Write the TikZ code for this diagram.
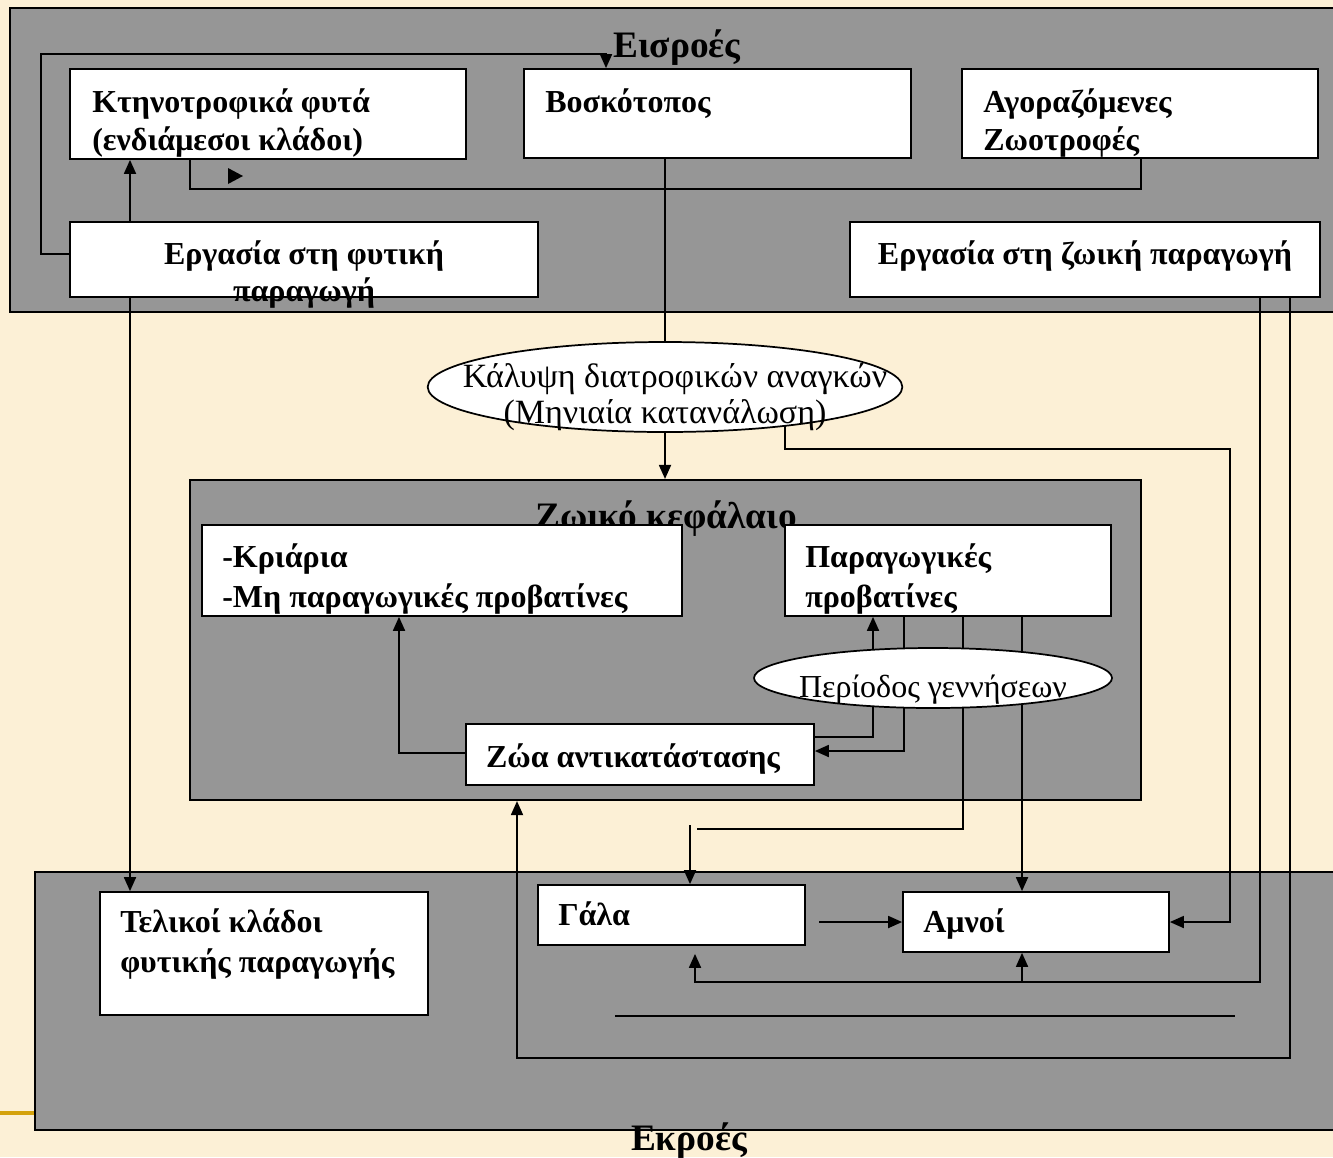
\documentclass[tikz,border=0pt]{standalone}
\usepackage{fontspec}
\setmainfont{Liberation Serif}
\usetikzlibrary{arrows.meta,shapes.geometric,fit,calc}
\pgfdeclarelayer{bg}
\pgfdeclarelayer{lines}
\pgfsetlayers{bg,lines,main}
\definecolor{parch}{HTML}{FCF0D6}
\definecolor{panelgray}{HTML}{969696}
\definecolor{goldline}{HTML}{D4A20C}
\begin{document}
\begin{tikzpicture}[x=0.75pt,y=-0.75pt,
  panel/.style={draw, fill=panelgray, line width=1.6pt, inner sep=0pt},
  wbox/.style={draw, fill=white, line width=1.3pt, inner sep=0pt},
  bt/.style={font=\bfseries\fontsize{24}{29}\selectfont, inner sep=0pt},
  et/.style={font=\fontsize{25.5}{30}\selectfont, inner sep=0pt},
  et2/.style={font=\fontsize{24}{29}\selectfont, inner sep=0pt},
  ttl/.style={font=\bfseries\fontsize{28}{33}\selectfont, inner sep=0pt},
  con/.style={line width=1.35pt},
  arr/.style={con, -{Triangle[length=10.5pt,width=9pt]}}]
\useasboundingbox (0,0) rectangle (1333,1157);
\begin{pgfonlayer}{bg}
  \fill[parch] (0,0) rectangle (1333,1157);
  \draw[goldline, line width=2.5pt] (0,1113) -- (35,1113);
  \node[panel, fit={(10,8)(1350,312)}] (inp) {};
  \node[panel, fit={(190,480)(1141,800)}] (zk) {};
  \node[panel, fit={(35,872)(1350,1130)}] (outp) {};
  \node[ttl, anchor=base] (zkt) at (666,528) {Ζωικό κεφάλαιο};
\end{pgfonlayer}

% boxes
\node[wbox, fit={(70,69)(466,159)}] (kt) {};
\node[wbox, fit={(524,69)(911,158)}] (bos) {};
\node[wbox, fit={(962,69)(1318,158)}] (ag) {};
\node[wbox, fit={(70,222)(538,297)}] (ef) {};
\node[wbox, fit={(850,222)(1320,297)}] (ez) {};
\node[wbox, ellipse, minimum width=356pt, minimum height=67.5pt] (e1) at (665,387) {};
\node[wbox, fit={(202,525)(682,616)}] (kr) {};
\node[wbox, fit={(785,525)(1111,616)}] (pp) {};
\node[wbox, ellipse, minimum width=268.5pt, minimum height=45pt] (e2) at (933,678) {};
\node[wbox, fit={(466,724)(814,785)}] (za) {};
\node[wbox, fit={(100,892)(428,1015)}] (tk) {};
\node[wbox, fit={(538,885)(805,945)}] (ga) {};
\node[wbox, fit={(903,892)(1169,952)}] (am) {};

% texts
\node[ttl, anchor=base] (inpt) at (677,57) {Εισροές};
\node[ttl, anchor=base] (outpt) at (689,1150) {Εκροές};
\node[bt, anchor=base west] (kt1) at (92,112) {Κτηνοτροφικά φυτά};
\node[bt, anchor=base west] (kt2) at (92,150) {(ενδιάμεσοι κλάδοι)};
\node[bt, anchor=base west] (bos1) at (545,112) {Βοσκότοπος};
\node[bt, anchor=base west] (ag1) at (983,112) {Αγοραζόμενες};
\node[bt, anchor=base west] (ag2) at (983,150) {Ζωοτροφές};
\node[bt, anchor=base] (ef1) at (304,264) {Εργασία στη φυτική};
\node[bt, anchor=base] (ef2) at (304,301) {παραγωγή};
\node[bt, anchor=base] (ez1) at (1085,264) {Εργασία στη ζωική παραγωγή};
\node[et, anchor=base] (e1a) at (675,387) {Κάλυψη διατροφικών αναγκών};
\node[et, anchor=base] (e1b) at (665,423) {(Μηνιαία κατανάλωση)};
\node[bt, anchor=base west] (kr1) at (222,567) {-Κριάρια};
\node[bt, anchor=base west] (kr2) at (222,607) {-Μη παραγωγικές προβατίνες};
\node[bt, anchor=base west] (pp1) at (805,567) {Παραγωγικές};
\node[bt, anchor=base west] (pp2) at (805,607) {προβατίνες};
\node[et2, anchor=base] (e2a) at (933,697) {Περίοδος γεννήσεων};
\node[bt, anchor=base] (za1) at (633,767) {Ζώα αντικατάστασης};
\node[bt, anchor=base west] (tk1) at (120,932) {Τελικοί κλάδοι};
\node[bt, anchor=base west] (tk2) at (120,972) {φυτικής παραγωγής};
\node[bt, anchor=base west] (ga1) at (558,925) {Γάλα};
\node[bt, anchor=base west] (am1) at (923,932) {Αμνοί};

% connectors
\begin{pgfonlayer}{lines}
  \draw[arr] (ef.west |- 0,254) -- (41,254) -- (41,54) -- (606,54) -- (606,0 |- bos.north);
  \draw[arr] (130,0 |- ef.north) -- (130,0 |- kt.south);
  \draw[con] (190,0 |- kt.south) -- (190,189) -- (1141,189) -- (1141,0 |- ag.south);
  \fill (228,168) -- (243,176) -- (228,184) -- cycle;
  \draw[con] (e1.north |- bos.south) -- (e1.north);
  \draw[arr] (e1.south) -- (e1.south |- zk.north);
  \draw[arr] ($(e1.center)+(120,38)$) -- (785,449) -- (1230,449) -- (1230,922) -- (am.east |- 0,922);
  \draw[arr, shorten >=6pt] (1260,0 |- ez.south) -- (1260,982) -- (695,982) -- (695,0 |- ga.south);
  \draw[arr] (1022,982) -- (1022,0 |- am.south);
  \draw[arr] (1290,0 |- ez.south) -- (1290,1058) -- (517,1058) -- (517,0 |- zk.south);
  \draw[arr] (130,0 |- ef.south) -- (130,0 |- tk.north);
  \draw[arr] ($(e2.center)+(-60,-28)$) -- (873,0 |- pp.south);
  \draw[arr] (904,0 |- pp.south) -- (904,751) -- (za.east |- 0,751);
  \draw[con] ($(e2.center)+(-60,28)$) -- (873,737) -- (za.east |- 0,737);
  \coordinate (gend) at (697,829);
  \coordinate (gstart) at (690,825);
  \draw[con] (963,0 |- pp.south) -- (963,829) -- (gend);
  \draw[arr] (gstart) -- (690,0 |- ga.north);
  \draw[arr] (1022,0 |- pp.south) -- (1022,0 |- am.north);
  \draw[arr] (za.west |- 0,753) -- (399,753) -- (399,0 |- kr.south);
  \draw[arr, shorten <=10pt] (ga.east |- 0,922) -- (am.west |- 0,922);
  \coordinate (sl1) at (615,1016);
  \coordinate (sl2) at (1235,1016);
  \draw[con] (sl1) -- (sl2);
\end{pgfonlayer}
\end{tikzpicture}
\end{document}
